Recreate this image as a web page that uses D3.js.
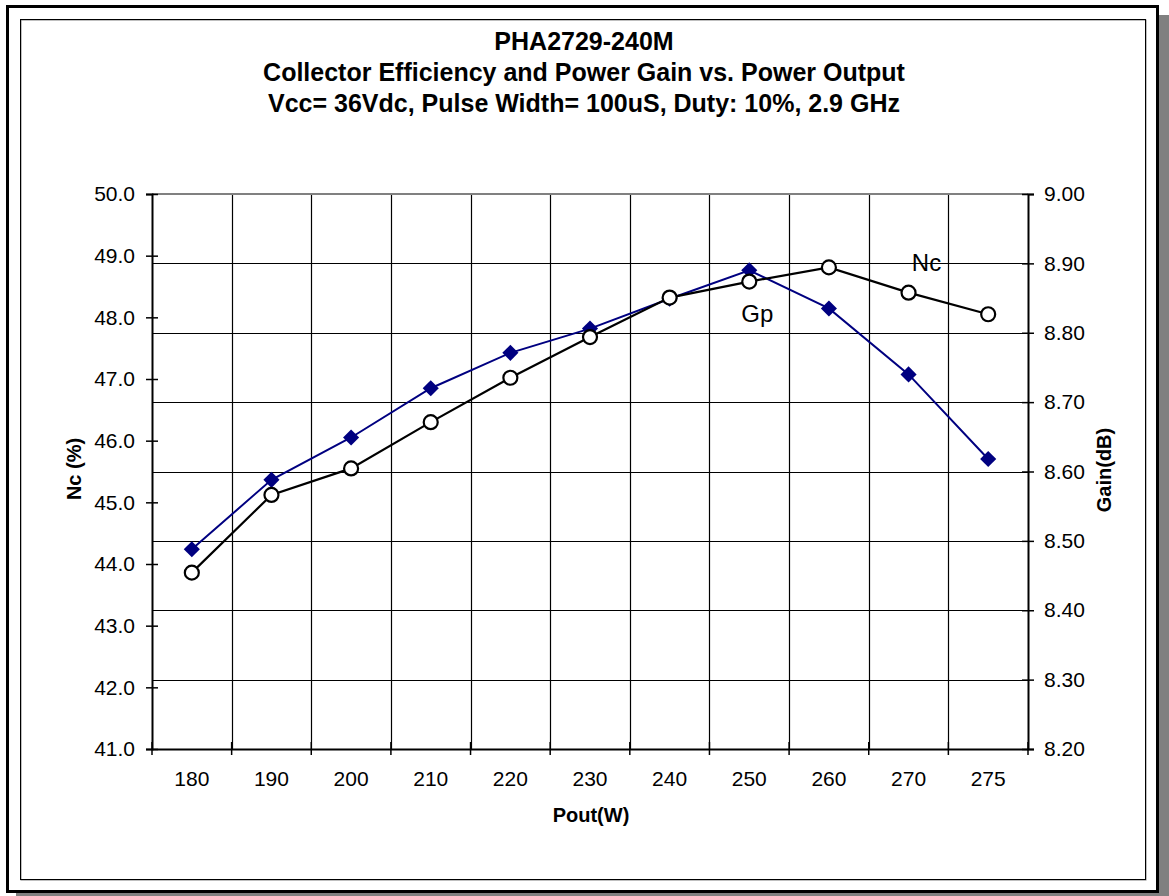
<!DOCTYPE html>
<html>
<head>
<meta charset="utf-8">
<script src="https://d3js.org/d3.v7.min.js"></script>
<style>
  body { margin: 0; background: #fff; }
  svg text { font-family: "Liberation Sans", Arial, sans-serif; fill: #000; }
</style>
</head>
<body>
<div id="chart"></div>
<script>
// categories on the x axis
const pout = ["180", "190", "200", "210", "220", "230", "240", "250", "260", "270", "275"];
// collector efficiency, left axis (%)
const nc = [43.86, 45.12, 45.55, 46.30, 47.02, 47.68, 48.32, 48.58, 48.81, 48.40, 48.05];
// power gain, right axis (dB)
const gp = [8.488, 8.588, 8.649, 8.720, 8.771, 8.806, 8.849, 8.890, 8.835, 8.740, 8.618];
const leftTicks = [41, 42, 43, 44, 45, 46, 47, 48, 49, 50];
const rightTicks = [8.2, 8.3, 8.4, 8.5, 8.6, 8.7, 8.8, 8.9, 9.0];
const titleLines = ["PHA2729-240M",
  "Collector Efficiency and Power Gain vs. Power Output",
  "Vcc= 36Vdc, Pulse Width= 100uS, Duty: 10%, 2.9 GHz"];

const W = 1169, H = 896;
const plot = { left: 152, right: 1028, top: 194, bottom: 749 };

const svg = d3.select("#chart").append("svg")
  .attr("width", W).attr("height", H);

// frame: shadow, outer border, inner border
svg.append("rect").attr("x", 16).attr("y", 15).attr("width", 1153).attr("height", 881).attr("fill", "#808080");
svg.append("rect").attr("x", 7.5).attr("y", 6.5).attr("width", 1150).attr("height", 885)
  .attr("fill", "#fff").attr("stroke", "#000").attr("stroke-width", 3);
svg.append("rect").attr("x", 21).attr("y", 20).attr("width", 1125).attr("height", 860)
  .attr("fill", "none").attr("stroke", "#808080").attr("stroke-width", 1);
svg.append("rect").attr("x", 20.5).attr("y", 19.5).attr("width", 1125).attr("height", 860)
  .attr("fill", "none").attr("stroke", "#000").attr("stroke-width", 1);

// title
svg.append("g").selectAll("text").data(titleLines).enter().append("text")
  .attr("x", 584).attr("y", (d, i) => 50 + i * 31)
  .attr("text-anchor", "middle")
  .style("font-size", "25px").style("font-weight", "bold")
  .text(d => d);

const x = d3.scaleBand().domain(pout).range([plot.left, plot.right]).padding(0);
const yL = d3.scaleLinear().domain([41, 50]).range([plot.bottom, plot.top]);
const yR = d3.scaleLinear().domain([8.2, 9.0]).range([plot.bottom, plot.top]);

// gridlines (horizontal at right-axis ticks, vertical at category boundaries)
const bounds = pout.map(c => x(c)).concat([plot.right]);
svg.append("g").selectAll("line").data(rightTicks.slice(1, -1)).enter().append("line")
  .attr("x1", plot.left).attr("x2", plot.right)
  .attr("y1", d => Math.round(yR(d)) + 0.5).attr("y2", d => Math.round(yR(d)) + 0.5)
  .attr("stroke", "#000").attr("stroke-width", 1.2);
svg.append("g").selectAll("line").data(bounds.slice(1, -1)).enter().append("line")
  .attr("x1", d => Math.round(d) + 0.5).attr("x2", d => Math.round(d) + 0.5)
  .attr("y1", plot.top).attr("y2", plot.bottom)
  .attr("stroke", "#000").attr("stroke-width", 1.2);

// plot border top (grey)
svg.append("line").attr("x1", plot.left).attr("x2", plot.right)
  .attr("y1", plot.top).attr("y2", plot.top)
  .attr("stroke", "#808080").attr("stroke-width", 2);

// left axis
const gL = svg.append("g").attr("transform", `translate(${plot.left},0)`)
  .call(d3.axisLeft(yL).tickValues(leftTicks).tickFormat(d3.format(".1f")).tickSize(6).tickPadding(11));
gL.select(".domain").attr("stroke", "#000").attr("stroke-width", 2);
gL.selectAll(".tick line").attr("x1", 6).attr("x2", -6).attr("stroke-width", 1.5);
gL.selectAll(".tick text").style("font-size", "21px");

// right axis
const gR = svg.append("g").attr("transform", `translate(${plot.right},0)`)
  .call(d3.axisRight(yR).tickValues(rightTicks).tickFormat(d3.format(".2f")).tickSize(6).tickPadding(10));
gR.select(".domain").attr("stroke", "#000").attr("stroke-width", 2);
gR.selectAll(".tick line").attr("x1", -6).attr("x2", 6).attr("stroke-width", 1.5);
gR.selectAll(".tick text").style("font-size", "21px");

// bottom axis
const gB = svg.append("g").attr("transform", `translate(0,${plot.bottom})`)
  .call(d3.axisBottom(x).tickSize(0).tickPadding(22));
gB.select(".domain").attr("stroke", "#000").attr("stroke-width", 2);
gB.selectAll(".tick text").style("font-size", "21px");
gB.selectAll("line.bound").data(bounds).enter().append("line").attr("class", "bound")
  .attr("x1", d => d).attr("x2", d => d).attr("y1", -7).attr("y2", 6)
  .attr("stroke", "#000").attr("stroke-width", 1.5);

// axis titles
svg.append("text").attr("transform", "translate(81,469) rotate(-90)")
  .attr("text-anchor", "middle").style("font-size", "20px").style("font-weight", "bold")
  .text("Nc (%)");
svg.append("text").attr("transform", "translate(1111,470) rotate(-90)")
  .attr("text-anchor", "middle").style("font-size", "20px").style("font-weight", "bold")
  .text("Gain(dB)");
svg.append("text").attr("x", 591).attr("y", 822)
  .attr("text-anchor", "middle").style("font-size", "20px").style("font-weight", "bold")
  .text("Pout(W)");

const cx = c => x(c) + x.bandwidth() / 2;

// Gp series (navy diamonds, right axis)
const gpLine = d3.line().x((d, i) => cx(pout[i])).y(d => yR(d));
svg.append("path").datum(gp).attr("d", gpLine)
  .attr("fill", "none").attr("stroke", "#000080").attr("stroke-width", 2);
svg.append("g").selectAll("path").data(gp).enter().append("path")
  .attr("d", d3.symbol().type(d3.symbolSquare).size(130))
  .attr("transform", (d, i) => `translate(${cx(pout[i])},${yR(d)}) rotate(45)`)
  .attr("fill", "#000080");

// Nc series (black open circles, left axis)
const ncLine = d3.line().x((d, i) => cx(pout[i])).y(d => yL(d));
svg.append("path").datum(nc).attr("d", ncLine)
  .attr("fill", "none").attr("stroke", "#000").attr("stroke-width", 2.2);
svg.append("g").selectAll("circle").data(nc).enter().append("circle")
  .attr("cx", (d, i) => cx(pout[i])).attr("cy", d => yL(d)).attr("r", 7)
  .attr("fill", "#fff").attr("stroke", "#000").attr("stroke-width", 2.2);

// series labels
svg.append("text").attr("x", cx("270") + 18).attr("y", yL(nc[9]) - 22)
  .attr("text-anchor", "middle").style("font-size", "24px").text("Nc");
svg.append("text").attr("x", cx("250") + 8).attr("y", yL(nc[7]) + 40)
  .attr("text-anchor", "middle").style("font-size", "24px").text("Gp");
</script>
</body>
</html>
